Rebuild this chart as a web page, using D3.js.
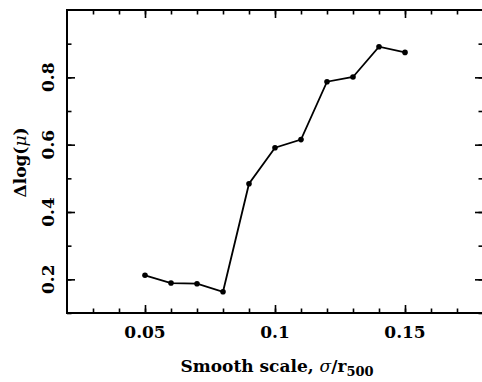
<!DOCTYPE html>
<html>
<head>
<meta charset="utf-8">
<script src="https://cdn.jsdelivr.net/npm/d3@7"></script>
<style>
  body { margin: 0; background: #fff; }
  svg text { font-family: "DejaVu Serif", "Liberation Serif", serif; font-weight: bold; fill: #000; }
</style>
</head>
<body>
<svg width="482" height="382"></svg>
<script>
// Data
const scales = [0.05, 0.06, 0.07, 0.08, 0.09, 0.10, 0.11, 0.12, 0.13, 0.14, 0.15];
const dlogMu = [0.212, 0.189, 0.187, 0.163, 0.484, 0.591, 0.615, 0.787, 0.801, 0.891, 0.874];
const xTicks = [0.05, 0.1, 0.15];
const yTicks = [0.2, 0.4, 0.6, 0.8];

// Plot box
const boxL = 67, boxR = 483, boxT = 10, boxB = 313;

const svg = d3.select("svg");

const x = d3.scaleLinear().domain([0.02, 0.18]).range([boxL, boxR]);
const y = d3.scaleLinear().domain([0.1, 1.0]).range([boxB, boxT]);

const minorX = d3.range(3, 18).map(d => d / 100);
const minorY = d3.range(1, 10).map(d => d / 10);

// Ticks on all four sides, pointing inwards
function ticks(gen, t, vals, len) {
  svg.append("g")
    .attr("transform", t)
    .call(gen.tickValues(vals).tickSize(-len).tickFormat(""))
    .call(g => g.select(".domain").remove())
    .selectAll("line").attr("stroke", "#000").attr("stroke-width", 1.6);
}
ticks(d3.axisBottom(x), `translate(0,${boxB})`, minorX, 4.5);
ticks(d3.axisTop(x), `translate(0,${boxT})`, minorX, 4.5);
ticks(d3.axisLeft(y), `translate(${boxL},0)`, minorY, 4.5);
ticks(d3.axisRight(y), `translate(${boxR},0)`, minorY, 4.5);
ticks(d3.axisBottom(x), `translate(0,${boxB})`, xTicks, 8);
ticks(d3.axisTop(x), `translate(0,${boxT})`, xTicks, 8);
ticks(d3.axisLeft(y), `translate(${boxL},0)`, yTicks, 8);
ticks(d3.axisRight(y), `translate(${boxR},0)`, yTicks, 8);

// Frame
svg.append("rect")
  .attr("x", boxL).attr("y", boxT)
  .attr("width", boxR - boxL).attr("height", boxB - boxT)
  .attr("fill", "none").attr("stroke", "#000").attr("stroke-width", 2);

// Tick labels
svg.append("g").selectAll("text").data(xTicks).join("text")
  .attr("x", d => x(d)).attr("y", boxB + 25)
  .attr("text-anchor", "middle").attr("font-size", 17)
  .text(d => d3.format("")(d));

svg.append("g").selectAll("text").data(yTicks).join("text")
  .attr("transform", d => `translate(${boxL - 13},${y(d)}) rotate(-90)`)
  .attr("text-anchor", "middle").attr("font-size", 17)
  .text(d => d.toFixed(1));

// Axis titles
const xt = svg.append("text")
  .attr("x", 277).attr("y", 372)
  .attr("text-anchor", "middle").attr("font-size", 17);
xt.append("tspan").text("Smooth scale, ");
xt.append("tspan").attr("font-style", "italic").attr("font-weight", "normal").text("σ");
xt.append("tspan").text("/r");
xt.append("tspan").attr("font-size", 13).attr("dy", 4).text("500");

const yt = svg.append("text")
  .attr("transform", `translate(26,${(boxT + boxB) / 2 + 1}) rotate(-90)`)
  .attr("text-anchor", "middle").attr("font-size", 17);
yt.append("tspan").text("Δlog(");
yt.append("tspan").attr("font-style", "italic").attr("font-weight", "normal").text("μ");
yt.append("tspan").text(")");

// Data line and points
const pts = scales.map((s, i) => [s, dlogMu[i]]);
svg.append("path")
  .datum(pts)
  .attr("d", d3.line().x(d => x(d[0])).y(d => y(d[1])))
  .attr("fill", "none").attr("stroke", "#000").attr("stroke-width", 1.8);

svg.append("g").selectAll("circle").data(pts).join("circle")
  .attr("cx", d => x(d[0])).attr("cy", d => y(d[1]))
  .attr("r", 2.8).attr("fill", "#000");
</script>
</body>
</html>
